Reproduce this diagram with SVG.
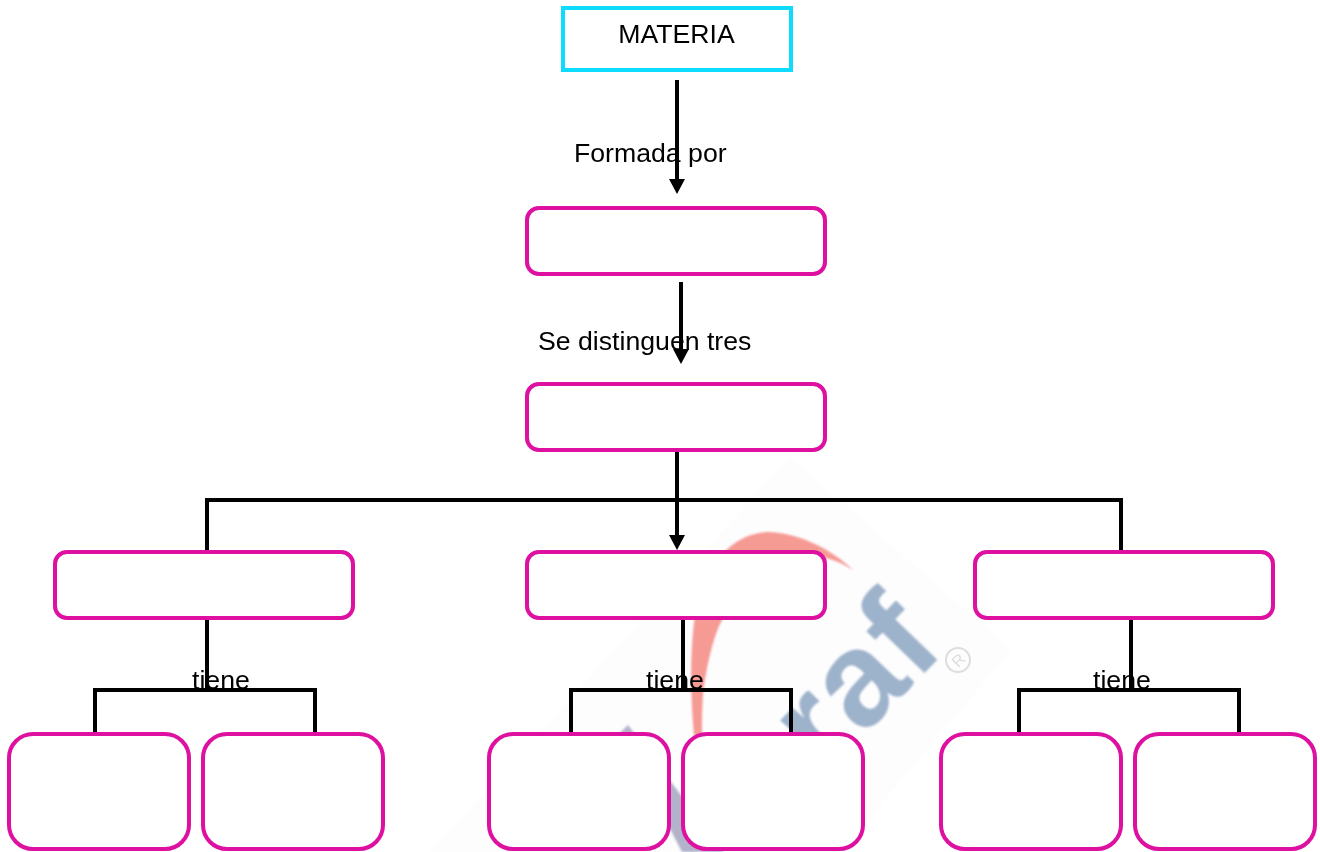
<svg xmlns="http://www.w3.org/2000/svg" width="1320" height="852" viewBox="0 0 1320 852">
<style>
.n{fill:#fff;stroke:#dd10a0;stroke-width:4}
.c{fill:none;stroke:#000;stroke-width:4}
.t{font-family:"Liberation Sans",Arial,sans-serif;font-size:26.67px;fill:#000}
</style>
<defs>
<marker id="a" markerUnits="userSpaceOnUse" markerWidth="16" markerHeight="16" refX="7" refY="8" orient="auto"><path d="M0 0L15 8L0 16Z" fill="#000"/></marker>
<filter id="b" x="-10%" y="-10%" width="120%" height="120%"><feGaussianBlur stdDeviation="1.2"/></filter>
</defs>
<rect width="1320" height="852" fill="#fff"/>
<g id="watermark">
<path d="M790 457L1012 650L840 852L430 852Z" fill="#fdfdfe"/>
<g filter="url(#b)">
<path d="M694 736C690 690 690 650 695 615C702 580 722 535 767 532C800 532 835 552 853 570C825 552 790 548 762 572C742 590 730 605 722 620C714 635 708 660 704 685C702 700 702 720 702 736Z" fill="#f69a94"/>
<text transform="translate(825 776) rotate(-46)" font-family="Liberation Sans,Arial,sans-serif" font-weight="700" font-size="134" letter-spacing="2" fill="#9db2cb">raf</text>
<path d="M628 725L620 733L682 852L724 852Z" fill="#b2b2ca"/>
</g>
<circle cx="958" cy="660" r="12" fill="none" stroke="#ddd" stroke-width="2"/>
<text x="958" y="666" text-anchor="middle" transform="rotate(-45 958 660)" font-family="Liberation Sans,Arial,sans-serif" font-size="16" fill="#ddd">R</text>
</g>
<g id="connectors">
<path class="c" marker-end="url(#a)" d="M677 80V186"/>
<path class="c" marker-end="url(#a)" d="M681 282V356"/>
<path class="c" marker-end="url(#a)" d="M677 450V542"/>
<path class="c" d="M207 552V500H1121V552"/>
<path class="c" d="M207 618V690"/>
<path class="c" d="M95 734V690H315V734"/>
<path class="c" d="M683 618V690"/>
<path class="c" d="M571 734V690H791V734"/>
<path class="c" d="M1131 618V690"/>
<path class="c" d="M1019 734V690H1239V734"/>
</g>
<g id="n-materia"><rect x="563" y="8" width="228" height="62" style="fill:none;stroke:#0ddcff;stroke-width:4"/><text class="t" x="676.500" y="43" text-anchor="middle">MATERIA</text></g>
<g id="n-formada"><rect class="n" x="527" y="208" width="298" height="66" rx="12"/></g>
<g id="n-tres"><rect class="n" x="527" y="384" width="298" height="66" rx="12"/></g>
<g id="n-a"><rect class="n" x="55" y="552" width="298" height="66" rx="12"/></g>
<g id="n-b"><rect class="n" x="527" y="552" width="298" height="66" rx="12"/></g>
<g id="n-c"><rect class="n" x="975" y="552" width="298" height="66" rx="12"/></g>
<g id="n-a1"><rect class="n" x="9" y="734" width="180" height="115" rx="24"/></g>
<g id="n-a2"><rect class="n" x="203" y="734" width="180" height="115" rx="24"/></g>
<g id="n-b1"><rect class="n" x="489" y="734" width="180" height="115" rx="24"/></g>
<g id="n-b2"><rect class="n" x="683" y="734" width="180" height="115" rx="24"/></g>
<g id="n-c1"><rect class="n" x="941" y="734" width="180" height="115" rx="24"/></g>
<g id="n-c2"><rect class="n" x="1135" y="734" width="180" height="115" rx="24"/></g>
<g id="labels">
<text class="t" x="574" y="162">Formada por</text>
<text class="t" x="538" y="350">Se distinguen tres</text>
<text class="t" x="192" y="689">tiene</text>
<text class="t" x="646" y="689">tiene</text>
<text class="t" x="1093" y="689">tiene</text>
</g>
</svg>
